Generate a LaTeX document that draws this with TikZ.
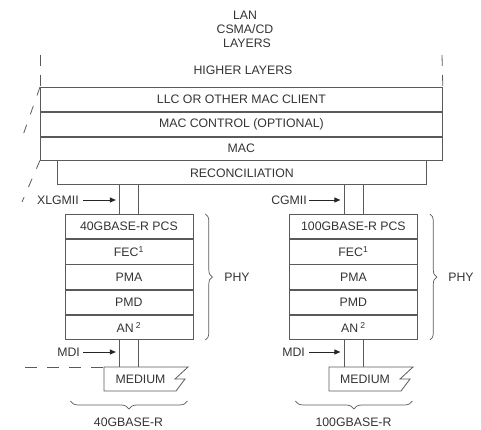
\documentclass[tikz,border=0pt]{standalone}
\usepackage{fontspec}
\setmainfont{Liberation Sans}
\usetikzlibrary{arrows.meta,decorations.pathreplacing,calc}
\definecolor{ln}{HTML}{5A5A5A}
\definecolor{tx}{HTML}{333333}
\begin{document}
\begin{tikzpicture}[x=1pt,y=-1pt,
  font=\fontsize{12.3}{14}\selectfont, text=tx,
  lay/.style={draw=ln, line width=0.8pt, inner sep=0pt, anchor=north west, minimum height=24pt},
  wide/.style={lay, minimum width=402pt},
  stk/.style={lay, minimum width=128pt, minimum height=24.4pt},
  wire/.style={draw=ln, line width=0.8pt},
  arr/.style={draw=black!85, line width=0.9pt, -{Triangle[length=6pt,width=5pt]}},
  brc/.style={draw=ln, line width=0.7pt, decorate, decoration={brace, amplitude=7pt}},
  dsh/.style={draw=ln, line width=0.8pt, dash pattern=on 11pt off 9pt},
  lbl/.style={inner sep=1pt}]
\useasboundingbox (0,0) rectangle (481,430);

% top title
\node[lbl, align=center] (lan) at (245,29) {LAN\\CSMA/CD\\\,\,LAYERS};

% dashed side lines
\coordinate (tl) at (40,55);
\coordinate (tr) at (442,55);
\node[lbl] (hl) at (243,70) {HIGHER LAYERS};

% MAC layers
\node[wide] (llc) at (40,87) {LLC OR OTHER MAC CLIENT};
\node[wide, anchor=north] (macc) at (llc.south) {MAC CONTROL (OPTIONAL)};
\node[wide, anchor=north, minimum height=23pt] (mac) at (macc.south) {MAC};
\node[lay, anchor=north, minimum width=369pt] (rec) at ([xshift=0.5pt]mac.south) {RECONCILIATION};

\draw[dsh] (tl) -- (llc.north west);
\draw[dsh] (tr) -- (llc.north east);
\draw[dsh, dash pattern=on 9pt off 11pt] (llc.north west) -- (22,138);
\draw[dsh, dash pattern=on 9pt off 11pt] (mac.south west) -- (22,202);

% left PHY stack
\node[stk] (pcs1) at (64.5,214) {40GBASE-R PCS};
\node[stk, anchor=north] (fec1) at (pcs1.south) {FEC\textsuperscript{1}};
\node[stk, anchor=north] (pma1) at (fec1.south) {PMA};
\node[stk, anchor=north] (pmd1) at (pma1.south) {PMD};
\node[stk, anchor=north] (an1) at (pmd1.south) {AN\,\textsuperscript{2}};

% right PHY stack
\node[stk] (pcs2) at (289,214) {100GBASE-R PCS};
\node[stk, anchor=north] (fec2) at (pcs2.south) {FEC\textsuperscript{1}};
\node[stk, anchor=north] (pma2) at (fec2.south) {PMA};
\node[stk, anchor=north] (pmd2) at (pma2.south) {PMD};
\node[stk, anchor=north] (an2) at (pmd2.south) {AN\,\textsuperscript{2}};

% interface wires (MII)
\foreach \s in {-9.5,9.5}{
  \draw[wire] ([xshift=\s pt]pcs1.north) -- ([xshift=\s pt]pcs1.north |- rec.south);
  \draw[wire] ([xshift=\s pt]pcs2.north) -- ([xshift=\s pt]pcs2.north |- rec.south);
}

% medium
\coordinate (m1) at (104,367);
\coordinate (m2) at (329,367);
\foreach \m in {m1,m2}{
  \draw[wire, line join=miter] (\m) -- ++(84,0) -- ++(-13,12) -- ++(10,0) -- ++(-9,12) -- ($(\m)+(0,24)$) -- cycle;
}
\node[lbl] (med1) at (140.5,379.5) {MEDIUM};
\node[lbl] (med2) at (365,379.5) {MEDIUM};

\foreach \s in {-9.5,9.5}{
  \draw[wire] ([xshift=\s pt]an1.south) -- ([xshift=\s pt]an1.south |- m1);
  \draw[wire] ([xshift=\s pt]an2.south) -- ([xshift=\s pt]an2.south |- m2);
}
\draw[dsh, dash pattern=on 12pt off 10pt] (25,367) -- (m1);

% interface labels and arrows
\node[lbl, anchor=east] (xl) at (80,200) {XLGMII};
\node[lbl, anchor=east] (cg) at (308,200) {CGMII};
\node[lbl, anchor=east] (mdi1) at (81,352) {MDI};
\node[lbl, anchor=east] (mdi2) at (306,352) {MDI};
\draw[arr] ([xshift=3pt]xl.east) -- ([xshift=-13pt]pcs1.north |- xl.east);
\draw[arr] ([xshift=1pt]cg.east) -- ([xshift=-13pt]pcs2.north |- cg.east);
\draw[arr] ([xshift=2pt]mdi1.east) -- ([xshift=-13pt]an1.south |- mdi1.east);
\draw[arr] ([xshift=3pt]mdi2.east) -- ([xshift=-13pt]an2.south |- mdi2.east);

% PHY braces
\draw[brc] ([xshift=12pt]pcs1.north east) -- ([xshift=12pt]an1.south east);
\draw[brc] ([xshift=12pt]pcs2.north east) -- ([xshift=12pt]an2.south east);
\node[lbl] (phy1) at (237,277) {PHY};
\node[lbl] (phy2) at (461,277) {PHY};

% bottom braces
\draw[brc, decoration={brace, amplitude=8pt}] ($(an1.south)+(58.5,61)$) -- ($(an1.south)+(-58.5,61)$);
\draw[brc, decoration={brace, amplitude=8pt}] ($(an2.south)+(59,61)$) -- ($(an2.south)+(-58,61)$);
\node[lbl] (b1) at (128.5,422) {40GBASE-R};
\node[lbl] (b2) at (353.5,422) {100GBASE-R};
\end{tikzpicture}
\end{document}
